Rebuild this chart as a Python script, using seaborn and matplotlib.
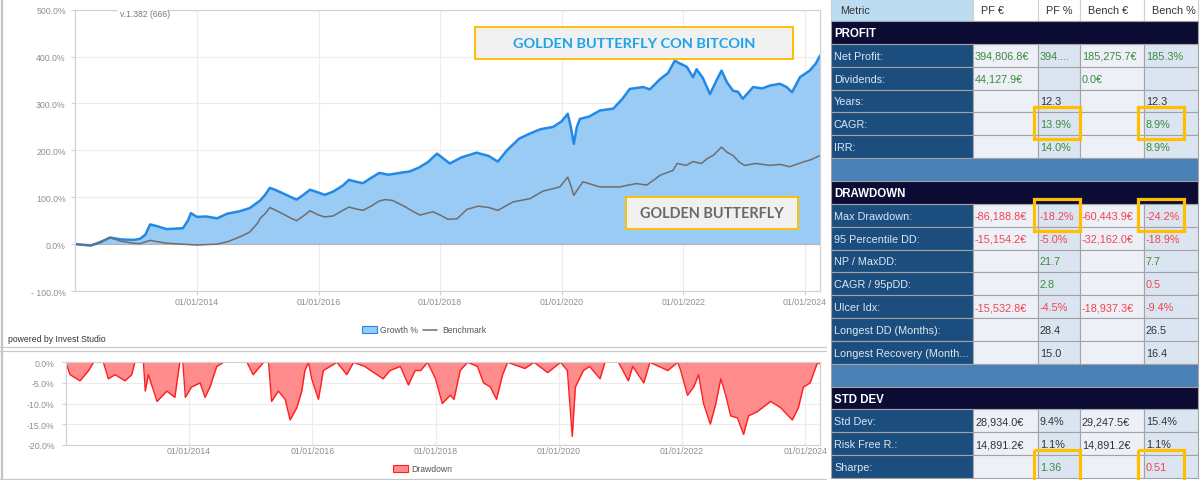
import numpy as np
import pandas as pd
import matplotlib
matplotlib.use("Agg")
import matplotlib.pyplot as plt
from matplotlib.patches import Rectangle
import seaborn as sns

W, H = 1200, 481

# Growth % of the portfolio (golden butterfly + bitcoin)
growth_years = [2012.00, 2012.10, 2012.25, 2012.40, 2012.57, 2012.75, 2012.95, 2013.06, 2013.15, 2013.23,
                2013.35, 2013.50, 2013.65, 2013.77, 2013.85, 2013.90, 2014.00, 2014.15, 2014.33, 2014.50,
                2014.70, 2014.87, 2015.04, 2015.12, 2015.20, 2015.30, 2015.42, 2015.55, 2015.64, 2015.75,
                2015.86, 2016.00, 2016.10, 2016.24, 2016.40, 2016.50, 2016.62, 2016.73, 2016.85, 2017.00,
                2017.15, 2017.34, 2017.50, 2017.65, 2017.80, 2017.95, 2018.08, 2018.16, 2018.35, 2018.60,
                2018.80, 2018.95, 2019.10, 2019.30, 2019.48, 2019.65, 2019.86, 2020.00, 2020.10, 2020.15,
                2020.20, 2020.25, 2020.30, 2020.45, 2020.63, 2020.85, 2021.00, 2021.12, 2021.34, 2021.45,
                2021.62, 2021.75, 2021.86, 2021.95, 2022.06, 2022.16, 2022.22, 2022.32, 2022.44, 2022.55,
                2022.63, 2022.72, 2022.82, 2022.90, 2022.98, 2023.15, 2023.30, 2023.42, 2023.59, 2023.70,
                2023.79, 2023.92, 2024.08, 2024.18, 2024.25]
growth_pct = [0, -1, -3, 3, 14, 10, 9, 11, 20, 42,
              38, 32, 33, 34, 50, 66, 58, 59, 55, 65,
              70, 77, 93, 105, 120, 115, 108, 100, 95, 105,
              116, 110, 105, 112, 125, 137, 133, 130, 140, 152,
              148, 152, 155, 163, 175, 193, 180, 172, 185, 195,
              188, 176, 200, 225, 236, 245, 250, 262, 278, 250,
              214, 250, 267, 272, 285, 289, 310, 331, 335, 330,
              352, 365, 391, 385, 378, 356, 373, 355, 320, 350,
              370, 345, 327, 325, 310, 335, 332, 338, 342, 335,
              324, 356, 370, 385, 402]

# Benchmark (golden butterfly)
bench_years = [2012.00, 2012.10, 2012.25, 2012.40, 2012.57, 2012.75, 2012.95, 2013.06, 2013.23, 2013.35,
               2013.50, 2013.75, 2014.00, 2014.15, 2014.33, 2014.50, 2014.60, 2014.75, 2014.87, 2015.00,
               2015.04, 2015.12, 2015.20, 2015.30, 2015.42, 2015.55, 2015.64, 2015.75, 2015.86, 2016.00,
               2016.10, 2016.24, 2016.40, 2016.50, 2016.62, 2016.73, 2016.85, 2017.00, 2017.10, 2017.22,
               2017.42, 2017.55, 2017.67, 2017.88, 2018.00, 2018.13, 2018.28, 2018.44, 2018.63, 2018.80,
               2018.95, 2019.20, 2019.48, 2019.69, 2019.85, 2019.97, 2020.10, 2020.15, 2020.20, 2020.27,
               2020.35, 2020.50, 2020.63, 2020.96, 2021.10, 2021.23, 2021.40, 2021.55, 2021.62, 2021.83,
               2021.90, 2022.05, 2022.16, 2022.30, 2022.39, 2022.50, 2022.63, 2022.72, 2022.82, 2022.92,
               2023.01, 2023.20, 2023.42, 2023.60, 2023.75, 2023.97, 2024.10, 2024.25]
bench_pct = [0, -2, -3, 5, 14, 6, 2, 1, 8, 5,
             2, 0, -2, -1, 0, 5, 10, 18, 26, 45,
             55, 65, 78, 72, 64, 55, 50, 60, 71, 62,
             58, 60, 72, 79, 75, 72, 80, 92, 95, 93,
             80, 70, 62, 69, 62, 53, 54, 74, 81, 78,
             72, 90, 97, 113, 118, 122, 143, 125, 104, 118,
             133, 127, 122, 122, 126, 129, 126, 140, 147, 157,
             172, 168, 176, 172, 182, 190, 207, 196, 189, 175,
             168, 172, 168, 170, 165, 175, 180, 189]

# Drawdown %
dd_years = [2012.00, 2012.07, 2012.23, 2012.37, 2012.45, 2012.61, 2012.69, 2012.80, 2012.96, 2013.07,
            2013.12, 2013.26, 2013.29, 2013.34, 2013.48, 2013.64, 2013.77, 2013.85, 2013.90, 2013.94,
            2014.04, 2014.18, 2014.26, 2014.34, 2014.45, 2014.56, 2014.94, 2015.04, 2015.21, 2015.29,
            2015.34, 2015.45, 2015.56, 2015.64, 2015.75, 2015.83, 2015.88, 2015.94, 2015.99, 2016.10,
            2016.18, 2016.40, 2016.56, 2016.67, 2016.85, 2016.95, 2017.15, 2017.26, 2017.43, 2017.56,
            2017.67, 2017.76, 2017.87, 2018.00, 2018.11, 2018.24, 2018.30, 2018.40, 2018.52, 2018.68,
            2018.78, 2018.89, 2018.99, 2019.09, 2019.17, 2019.45, 2019.60, 2019.82, 2020.03, 2020.14,
            2020.22, 2020.27, 2020.40, 2020.50, 2020.67, 2020.75, 2020.97, 2021.13, 2021.20, 2021.38,
            2021.48, 2021.77, 2021.93, 2021.98, 2022.09, 2022.19, 2022.27, 2022.35, 2022.46, 2022.55,
            2022.63, 2022.71, 2022.79, 2022.90, 2023.00, 2023.08, 2023.22, 2023.44, 2023.60, 2023.79,
            2023.89, 2023.97, 2024.08, 2024.20, 2024.25]
dd_pct = [0, -3, -4.5, -2, 0, 0, -4, -3, -4.5, -3,
          0, 0, -7, -3, -9.5, -7, -8.5, 0, 0, -8.5,
          -6, -5, -8.5, -6, -1, 0, 0, -3, 0, 0,
          -9.5, -7, -9, -14, -11, -7, -2, 0, -4, -9,
          -2, 0, -3, 0, -1, -2, -4, -2, -1, -5.5,
          -2, -2, 0, -4, -10, -8, -9, -2, 0, -1,
          -5, -6, -9, -3, 0, -1.5, 0, -2.5, 0, -2,
          -18, -6, -2, -1, -4, 0, 0, -4.5, -1, -5,
          0, -2, 0, -2, -8, -6, -3, -10, -15, -10,
          -4, -8, -13, -13.5, -17.5, -13, -12, -9.5, -11, -14,
          -11, -6, -5, 0, -0.5]

tick_years = [2014, 2016, 2018, 2020, 2022, 2024]
tick_labels = [f"01/01/{y}" for y in tick_years]
growth_yticks = [-100, 0, 100, 200, 300, 400, 500]
growth_ylabels = ["- 100.0%", "0.0%", "100.0%", "200.0%", "300.0%", "400.0%", "500.0%"]
dd_yticks = [0, -5, -10, -15, -20]
dd_ylabels = ["0.0%", "-5.0%", "-10.0%", "-15.0%", "-20.0%"]

# Metrics table
table_cols = ["Metric", "PF €", "PF %", "Bench €", "Bench %"]
table_rows = [
    ["PROFIT"],
    ["Net Profit:", "394,806.8€", "394....", "185,275.7€", "185.3%"],
    ["Dividends:", "44,127.9€", "", "0.0€", ""],
    ["Years:", "", "12.3", "", "12.3"],
    ["CAGR:", "", "13.9%", "", "8.9%"],
    ["IRR:", "", "14.0%", "", "8.9%"],
    [],
    ["DRAWDOWN"],
    ["Max Drawdown:", "-86,188.8€", "-18.2%", "-60,443.9€", "-24.2%"],
    ["95 Percentile DD:", "-15,154.2€", "-5.0%", "-32,162.0€", "-18.9%"],
    ["NP / MaxDD:", "", "21.7", "", "7.7"],
    ["CAGR / 95pDD:", "", "2.8", "", "0.5"],
    ["Ulcer Idx:", "-15,532.8€", "-4.5%", "-18,937.3€", "-9.4%"],
    ["Longest DD (Months):", "", "28.4", "", "26.5"],
    ["Longest Recovery (Month...", "", "15.0", "", "16.4"],
    [],
    ["STD DEV"],
    ["Std Dev:", "28,934.0€", "9.4%", "29,247.5€", "15.4%"],
    ["Risk Free R.:", "14,891.2€", "1.1%", "14,891.2€", "1.1%"],
    ["Sharpe:", "", "1.36", "", "0.51"],
]
# g = green, r = red, k = dark
table_tones = {
    "Net Profit:": "gggg", "Dividends:": "gggg", "Years:": "kkkk", "CAGR:": "gggg", "IRR:": "gggg",
    "Max Drawdown:": "rrrr", "95 Percentile DD:": "rrrr", "NP / MaxDD:": "gggg", "CAGR / 95pDD:": "ggrr",
    "Ulcer Idx:": "rrrr", "Longest DD (Months):": "kkkk", "Longest Recovery (Month...": "kkkk",
    "Std Dev:": "kkkk", "Risk Free R.:": "kkkk", "Sharpe:": "ggrr",
}
highlights = [("CAGR:", 2), ("CAGR:", 4), ("Max Drawdown:", 2), ("Max Drawdown:", 4), ("Sharpe:", 2), ("Sharpe:", 4)]

sns.set_theme(style="white")
plt.rcParams["font.family"] = ["Liberation Sans", "DejaVu Sans"]

BLUE_LINE = "#2389e6"
BLUE_FILL = "#99cbf4"
GREY_LINE = "#6e6e6e"
RED_LINE = "#ff1e1e"
RED_FILL = "#ff8c8c"
TICK_COL = "#8f8f8f"
GOLD = "#ffbf00"

fig = plt.figure(figsize=(W / 100, H / 100), dpi=100)
fig.patch.set_facecolor("white")


def px_axes(left, top, right, bottom, **kw):
    return fig.add_axes([left / W, 1 - bottom / H, (right - left) / W, (bottom - top) / H], **kw)


def style_axes(ax, ypad, xpad, xlen):
    ax.set_facecolor("white")
    ax.grid(True, color="#ececec", lw=0.8)
    for s in ax.spines.values():
        s.set_color("#d2d2d2")
        s.set_linewidth(0.9)
    ax.tick_params(axis="both", labelsize=6.3, labelcolor=TICK_COL, color="#d2d2d2",
                   width=0.8, left=True, bottom=True)
    ax.tick_params(axis="y", pad=ypad, length=3)
    ax.tick_params(axis="x", pad=xpad, length=xlen)
    ax.set_xlabel("")
    ax.set_ylabel("")


# ---- growth chart
ax1 = px_axes(75.4, 10.7, 820, 292)
ax1.fill_between(growth_years, growth_pct, 0, color=BLUE_FILL, lw=0)
ax1.axhline(0, color="#b5b5b5", lw=0.8)
sns.lineplot(x=growth_years, y=growth_pct, ax=ax1, color=BLUE_LINE, lw=1.8)
sns.lineplot(x=bench_years, y=bench_pct, ax=ax1, color=GREY_LINE, lw=1.1)
ax1.set_xlim(2012.0, 2024.25)
ax1.set_ylim(-100, 500)
ax1.set_yticks(growth_yticks, growth_ylabels)
ax1.set_xticks(tick_years, tick_labels)
style_axes(ax1, ypad=4, xpad=1, xlen=3)

# ---- drawdown chart
ax2 = px_axes(65.8, 363.3, 820, 445.7)
ax2.fill_between(dd_years, dd_pct, 0, color=RED_FILL, lw=0)
sns.lineplot(x=dd_years, y=dd_pct, ax=ax2, color=RED_LINE, lw=1.0)
ax2.set_xlim(2012.0, 2024.24)
ax2.set_ylim(-20, 0)
ax2.set_yticks(dd_yticks, dd_ylabels)
ax2.set_xticks(tick_years, tick_labels)
style_axes(ax2, ypad=5, xpad=1, xlen=0)

# ---- overlay in pixel coordinates: frames, legends, labels, table
ov = fig.add_axes([0, 0, 1, 1], zorder=10)
ov.set_xlim(0, W)
ov.set_ylim(H, 0)
ov.axis("off")
ov.patch.set_alpha(0)

# panel frames
ov.plot([1.5, 1.5], [0, 480], color="#c4c4c4", lw=1.6)
for yy in (347.5, 352):
    ov.plot([0, 826], [yy, yy], color="#c8c8c8", lw=0.9)
ov.plot([0, 826], [479.5, 479.5], color="#c8c8c8", lw=0.9)

ov.add_patch(Rectangle((117, 7), 51, 5, facecolor="white", edgecolor="none"))
ov.text(120, 14.5, "v.1.382 (666)", fontsize=6.2, color="#7a7a7a", va="center")
ov.text(8, 339.5, "powered by Invest Studio", fontsize=6.2, color="#333333", va="center")

# legends
ov.add_patch(Rectangle((362, 327), 15, 7, facecolor=BLUE_FILL, edgecolor=BLUE_LINE, lw=0.8))
ov.text(380, 330.5, "Growth %", fontsize=6.2, color="#555555", va="center")
ov.plot([423, 437], [330.5, 330.5], color=GREY_LINE, lw=1.1)
ov.text(442, 330.5, "Benchmark", fontsize=6.2, color="#555555", va="center")
ov.add_patch(Rectangle((393, 466), 15, 7, facecolor=RED_FILL, edgecolor=RED_LINE, lw=0.8))
ov.text(411, 469.5, "Drawdown", fontsize=6.2, color="#555555", va="center")

# series labels
renderer = fig.canvas.get_renderer()


def fit_label(x0, y0, x1, y1, text, color, text_w):
    ov.add_patch(Rectangle((x0, y0), x1 - x0, y1 - y0, facecolor="#f0f0f0", edgecolor=GOLD, lw=1.4))
    t = ov.text((x0 + x1) / 2, (y0 + y1) / 2 + 0.5, text, color=color, fontsize=12,
                fontweight="bold", family=["Lato", "DejaVu Sans"], ha="center", va="center")
    w = t.get_window_extent(renderer).width
    t.set_fontsize(12 * text_w / w)


fit_label(475, 28, 793, 60, "GOLDEN BUTTERFLY CON BITCOIN", "#1ea3e8", 243)
fit_label(626, 198, 798, 230, "GOLDEN BUTTERFLY", "#6a6a6a", 145)

# table
col_x = [831, 973, 1038, 1080, 1144, 1198]
head_h = 22
row_h = (479 - head_h) / len(table_rows)
tone_col = {"g": "#3b8a3b", "r": "#f2434b", "k": "#333333"}
grid_col = "#a3a3a3"
fs = 7.8

for j, name in enumerate(table_cols):
    x0, x1 = col_x[j], col_x[j + 1]
    fc = "#bcdcf2" if j == 0 else "white"
    ov.add_patch(Rectangle((x0, 0), x1 - x0, head_h, facecolor=fc, edgecolor="#d0d0d0", lw=0.8))
    ov.text(x0 + (9 if j == 0 else 8), head_h / 2 + 0.5, name, fontsize=fs, color="#333333", va="center")

row_top = {}
for i, row in enumerate(table_rows):
    y0 = head_h + i * row_h
    if len(row) == 0:
        ov.add_patch(Rectangle((col_x[0], y0), col_x[-1] - col_x[0], row_h,
                               facecolor="#4a80b6", edgecolor=grid_col, lw=0.8))
        continue
    if len(row) == 1:
        ov.add_patch(Rectangle((col_x[0], y0), col_x[-1] - col_x[0], row_h,
                               facecolor="#0b0b33", edgecolor=grid_col, lw=0.8))
        ov.text(col_x[0] + 3, y0 + row_h / 2 + 0.5, row[0], fontsize=8.3, fontweight="bold",
                color="white", va="center")
        continue
    row_top[row[0]] = y0
    tones = table_tones[row[0]]
    for j, val in enumerate(row):
        x0, x1 = col_x[j], col_x[j + 1]
        if j == 0:
            fc = "#1b4e7f"
        elif j in (1, 3):
            fc = "#edf1f7"
        else:
            fc = "#dbe5f2"
        ov.add_patch(Rectangle((x0, y0), x1 - x0, row_h, facecolor=fc, edgecolor=grid_col, lw=0.8))
        if j == 0:
            ov.text(x0 + 3, y0 + row_h / 2 + 0.5, val, fontsize=fs, color="#dce6f1", va="center")
        elif val:
            ov.text(x0 + 2, y0 + row_h / 2 + 0.5, val, fontsize=fs, color=tone_col[tones[j - 1]], va="center")

for name, j in highlights:
    y0 = row_top[name]
    x0 = col_x[j] - (4 if j == 2 else 6)
    ov.add_patch(Rectangle((x0, y0 - 5), 46, row_h + 9, facecolor="none", edgecolor=GOLD, lw=2.3))

fig.savefig("out.png", dpi=100, facecolor="white")
